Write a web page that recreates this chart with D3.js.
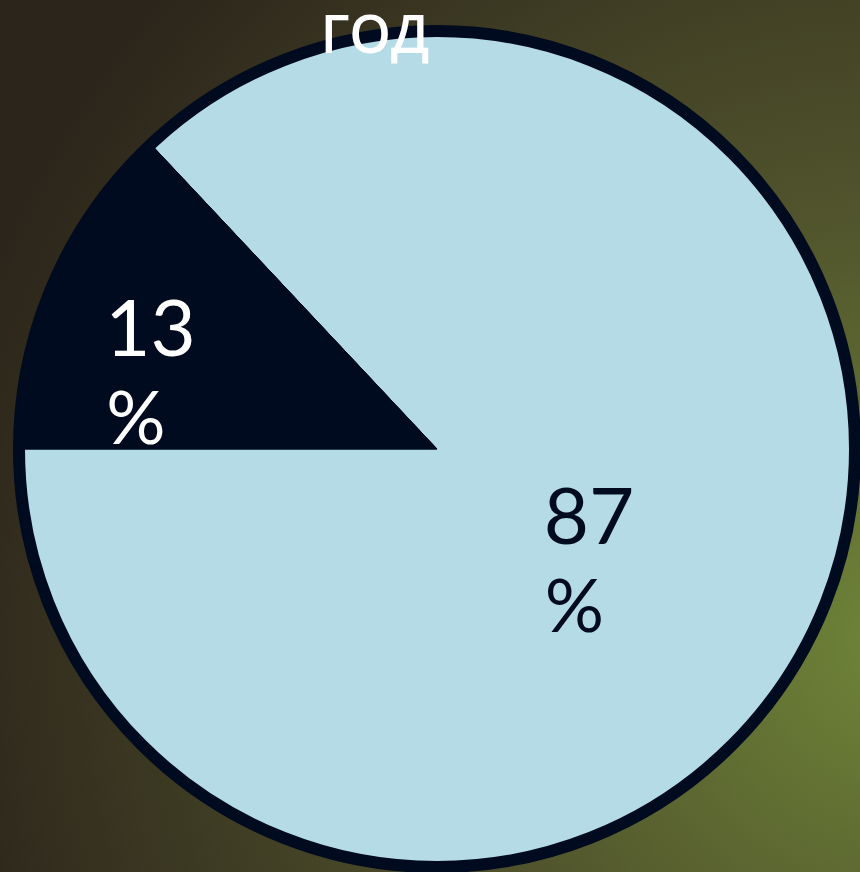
<!DOCTYPE html>
<html>
<head>
<meta charset="utf-8">
<script src="https://cdn.jsdelivr.net/npm/d3@7"></script>
<style>
  html, body { margin: 0; padding: 0; }
  body { width: 860px; height: 872px; overflow: hidden; }
  svg { display: block; }
</style>
</head>
<body>
<div id="chart"></div>
<script>
// chart data
const categories = ['rest', 'year'];
const shares = [87, 13];
const labelTexts = ['87', '13'];
const title = 'ГОД';

const SLICE_COLORS = { rest: '#b5dce6', year: '#000b1f' };
const LABEL_COLORS = { rest: '#000b1f', year: '#ffffff' };

const width = 860;
const height = 872;
const cx = 437;
const cy = 449;
const outerR = 418;
const borderW = 12;

const svg = d3.select('#chart')
  .append('svg')
  .attr('width', width)
  .attr('height', height);

// background gradient
const defs = svg.append('defs');
const grad = defs.append('radialGradient')
  .attr('id', 'bg')
  .attr('gradientUnits', 'userSpaceOnUse')
  .attr('cx', 900).attr('cy', 640).attr('r', 980);
grad.append('stop').attr('offset', '0%').attr('stop-color', '#6f8538');
grad.append('stop').attr('offset', '45%').attr('stop-color', '#50532c');
grad.append('stop').attr('offset', '100%').attr('stop-color', '#2c251b');

svg.append('rect')
  .attr('width', width)
  .attr('height', height)
  .attr('fill', 'url(#bg)');

const data = categories.map((c, i) => ({ key: c, value: shares[i], label: labelTexts[i] }));

const total = d3.sum(shares);
const start = -2 * Math.PI * (shares[0] - 75) / total;

const pie = d3.pie()
  .sort(null)
  .value(d => d.value)
  .startAngle(start)
  .endAngle(start + 2 * Math.PI);

const arc = d3.arc()
  .innerRadius(0)
  .outerRadius(outerR);

const g = svg.append('g')
  .attr('transform', `translate(${cx},${cy})`);

const arcs = pie(data);

g.selectAll('.slice')
  .data(arcs)
  .join('path')
  .attr('class', 'slice')
  .attr('d', arc)
  .attr('fill', d => SLICE_COLORS[d.data.key])
  .attr('stroke', '#000b1f')
  .attr('stroke-width', 1);

// outer ring
g.append('circle')
  .attr('r', outerR)
  .attr('fill', 'none')
  .attr('stroke', '#000b1f')
  .attr('stroke-width', borderW);

// labels: two lines, number then percent sign
const labelNudge = { rest: [-85, 12], year: [-140, -10] };

const labels = g.selectAll('.lbl')
  .data(arcs)
  .join('text')
  .attr('class', 'lbl')
  .attr('transform', d => {
    const [x, y] = arc.centroid(d);
    const n = labelNudge[d.data.key];
    return `translate(${x + n[0]},${y + n[1]})`;
  })
  .attr('font-family', 'Lato, "Open Sans", sans-serif')
  .attr('font-size', 78)
  .attr('fill', d => LABEL_COLORS[d.data.key]);

labels.append('tspan')
  .attr('x', 0)
  .attr('dy', 0)
  .text(d => d.data.label);
labels.append('tspan')
  .attr('x', 1)
  .attr('dy', 88)
  .attr('font-size', 74)
  .text('%');

svg.append('text')
  .attr('x', 375)
  .attr('y', 53)
  .attr('text-anchor', 'middle')
  .attr('font-family', '"Open Sans", Lato, sans-serif')
  .attr('font-weight', 600)
  .attr('font-size', 53)
  .attr('fill', '#ffffff')
  .text(title);
</script>
</body>
</html>
